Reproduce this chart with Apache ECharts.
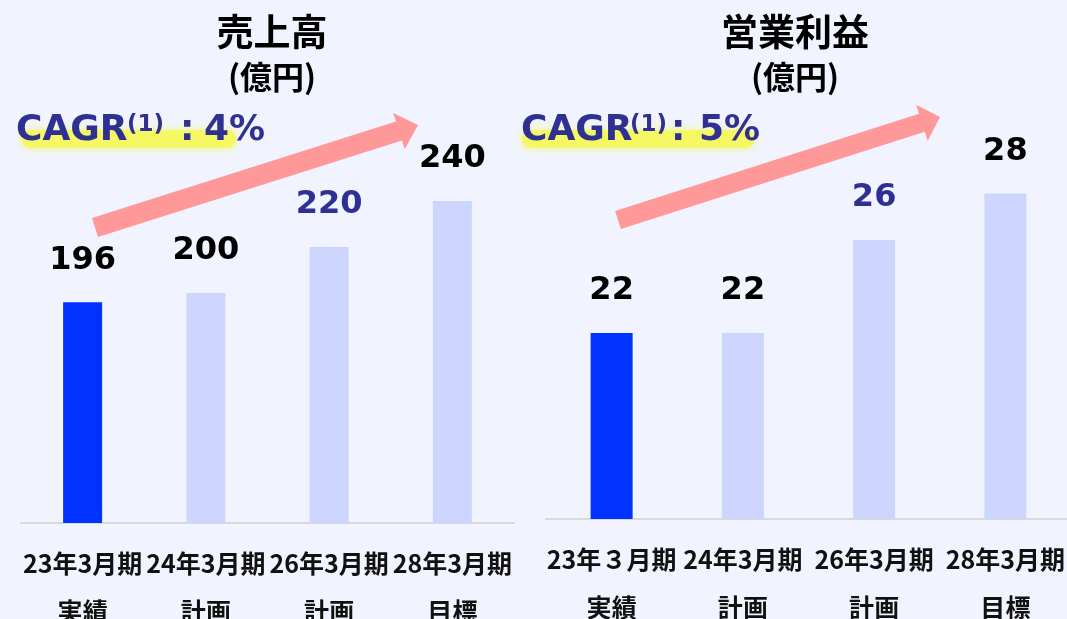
<!DOCTYPE html>
<html>
<head>
<meta charset="utf-8">
<script src="https://cdn.jsdelivr.net/npm/echarts@6/dist/echarts.min.js"></script>
<style>
  html, body { margin: 0; padding: 0; background: #f1f4fe; }
  #chart { width: 1067px; height: 619px; }
</style>
</head>
<body>
<div id="chart"></div>
<script>
// data
const salesPeriods = ['23年3月期', '24年3月期', '26年3月期', '28年3月期'];
const profitPeriods = ['23年３月期', '24年3月期', '26年3月期', '28年3月期'];
const statuses = ['実績', '計画', '計画', '目標'];
const salesValues = [196, 200, 220, 240];
const profitValues = [22, 22, 26, 28];

const navy = '#2e3192';
const cjk = '"Noto Sans CJK JP", sans-serif';
const latin = '"DejaVu Sans", sans-serif';

const chart = echarts.init(document.getElementById('chart'));

// bar data items: first bar is the actual result, the rest plan/target
function barItems(values) {
  return values.map((v, i) => ({
    value: v,
    itemStyle: { color: i === 0 ? '#0033ff' : '#ccd5fd' },
    label: { color: i === 2 ? navy : '#000000' }
  }));
}

// thick arrow polygon from start (mid of tail) to tip
function arrow(x0, y0, x1, y1, shaftHalf, headHalf, headLen) {
  const dx = x1 - x0, dy = y1 - y0;
  const len = Math.sqrt(dx * dx + dy * dy);
  const ux = dx / len, uy = dy / len;
  const nx = -uy, ny = ux;
  const bx = x1 - ux * headLen, by = y1 - uy * headLen;
  return [
    [x0 + nx * shaftHalf, y0 + ny * shaftHalf],
    [bx + nx * shaftHalf, by + ny * shaftHalf],
    [bx + nx * headHalf, by + ny * headHalf],
    [x1, y1],
    [bx - nx * headHalf, by - ny * headHalf],
    [bx - nx * shaftHalf, by - ny * shaftHalf],
    [x0 - nx * shaftHalf, y0 - ny * shaftHalf]
  ];
}

function text(x, y, str, size, color, font, align) {
  return {
    type: 'text', x: x, y: y, z: 10,
    style: {
      text: str, fill: color, font: 'bold ' + size + 'px ' + font,
      align: align || 'left', verticalAlign: 'middle'
    }
  };
}

function glow(x, y, w, h) {
  return {
    type: 'rect', z: 5,
    shape: { x: x, y: y, width: w, height: h, r: 8 },
    style: { fill: 'rgba(244,248,90,0.85)', shadowBlur: 10, shadowColor: 'rgba(244,248,90,0.9)' }
  };
}

const axisLabel = (periods) => ({
  interval: 0,
  margin: 16,
  fontSize: 25,
  fontWeight: 'bold',
  fontFamily: cjk,
  color: '#111111',
  lineHeight: 48,
  formatter: (v, i) => periods[i] + '\n' + statuses[i]
});

const options = {
  backgroundColor: '#f1f4fe',
  animation: false,
  grid: [
    { left: 21, top: 63, width: 493, height: 460, outerBoundsMode: 'none', containLabel: false },
    { left: 546, top: 54, width: 525, height: 465, outerBoundsMode: 'none', containLabel: false }
  ],
  xAxis: [
    {
      gridIndex: 0, type: 'category', data: salesPeriods,
      axisLine: { lineStyle: { color: '#d9d9d9', width: 2 } },
      axisTick: { show: false },
      axisLabel: axisLabel(salesPeriods)
    },
    {
      gridIndex: 1, type: 'category', data: profitPeriods,
      axisLine: { lineStyle: { color: '#d9d9d9', width: 2 } },
      axisTick: { show: false },
      axisLabel: axisLabel(profitPeriods)
    }
  ],
  yAxis: [
    { gridIndex: 0, type: 'value', min: 100, max: 300, show: false },
    { gridIndex: 1, type: 'value', min: 14, max: 34, show: false }
  ],
  series: [
    {
      name: '売上高', type: 'bar', xAxisIndex: 0, yAxisIndex: 0,
      barWidth: 39, data: barItems(salesValues),
      label: { show: true, position: 'top', distance: 26, fontSize: 32, fontWeight: 'bold', fontFamily: latin }
    },
    {
      name: '営業利益', type: 'bar', xAxisIndex: 1, yAxisIndex: 1,
      barWidth: 42, data: barItems(profitValues),
      label: { show: true, position: 'top', distance: 26, fontSize: 32, fontWeight: 'bold', fontFamily: latin }
    }
  ],
  graphic: [
    // titles
    text(272, 32, '売上高', 37, '#000000', cjk, 'center'),
    text(272, 77, '(億円)', 32, '#000000', cjk, 'center'),
    text(795, 32, '営業利益', 37, '#000000', cjk, 'center'),
    text(795, 77, '(億円)', 32, '#000000', cjk, 'center'),
    // CAGR left
    glow(22, 130, 214, 18),
    text(16, 131, 'CAGR', 36, navy, latin),
    text(127, 125, '(1)', 23, navy, latin),
    text(180, 131, ':', 36, navy, latin),
    text(204, 131, '4%', 36, navy, latin),
    // CAGR right
    glow(522, 130, 232, 18),
    text(521, 131, 'CAGR', 36, navy, latin),
    text(630, 125, '(1)', 23, navy, latin),
    text(671, 131, ':', 36, navy, latin),
    text(699, 131, '5%', 36, navy, latin),
    // growth arrows
    {
      type: 'polygon', z: 3,
      shape: { points: arrow(95, 227.5, 418, 125, 10, 19, 20) },
      style: { fill: '#ff9999' }
    },
    {
      type: 'polygon', z: 3,
      shape: { points: arrow(618, 220, 940, 117, 9.5, 19, 19) },
      style: { fill: '#ff9999' }
    }
  ]
};

chart.setOption(options);

window.addEventListener('resize', () => {
  chart.resize();
});
</script>
</body>
</html>
